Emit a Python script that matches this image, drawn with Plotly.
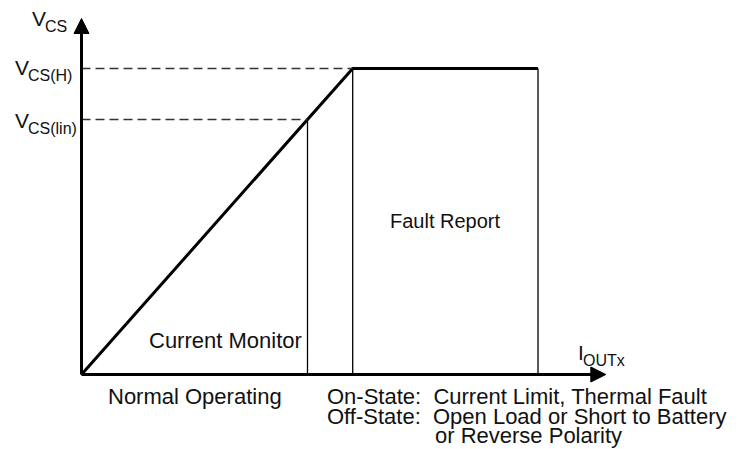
import plotly.graph_objects as go

# ---- data (conceptual units) ----
I_LIN = 5.0          # end of linear current-monitor region
I_H = 6.0            # current where V_CS saturates at V_CS(H)
I_FAULT_END = 10.1   # end of fault-report region
I_AXIS_END = 11.6    # x-axis arrow tip
V_LIN = 2.5          # V_CS(lin)
V_H = 3.0            # V_CS(H)
V_AXIS_END = 3.49    # y-axis arrow tip

curve_x = [0, I_H, I_FAULT_END]
curve_y = [0, V_H, V_H]

# ---- scale (layout) ----
W, H = 742, 449
OX, OY = 81.5, 374.5
SX, SY = 45.2, 102.0
xr = [-OX / SX, (W - OX) / SX]
yr = [-(H - OY) / SY, OY / SY]

def px(dx):
    return dx / SX

def py(dy):
    return dy / SY

FONT = "Liberation Sans, Arial, sans-serif"
BLACK = "#000000"

fig = go.Figure()

fig.add_trace(go.Scatter(x=curve_x, y=curve_y, mode="lines",
                         line=dict(color=BLACK, width=3), hoverinfo="skip"))
for xv, ytop in [(I_LIN, V_LIN), (I_H, V_H), (I_FAULT_END, V_H)]:
    fig.add_trace(go.Scatter(x=[xv, xv], y=[ytop, 0], mode="lines",
                             line=dict(color=BLACK, width=1.3), hoverinfo="skip"))
for xv, yv in [(I_H, V_H), (I_LIN, V_LIN)]:
    fig.add_trace(go.Scatter(x=[0, xv], y=[yv, yv], mode="lines",
                             line=dict(color="#333333", width=1.6, dash="9px,5px"),
                             hoverinfo="skip"))
fig.add_trace(go.Scatter(x=[0, I_AXIS_END - px(12)], y=[0, 0], mode="lines",
                         line=dict(color=BLACK, width=3), hoverinfo="skip"))
fig.add_trace(go.Scatter(x=[0, 0], y=[0, V_AXIS_END - py(12)], mode="lines",
                         line=dict(color=BLACK, width=3), hoverinfo="skip"))
hl, hw = 15, 7.5
fig.add_trace(go.Scatter(
    x=[I_AXIS_END, I_AXIS_END - px(hl), I_AXIS_END - px(hl), I_AXIS_END],
    y=[0, py(hw), -py(hw), 0], mode="lines", fill="toself", fillcolor=BLACK,
    line=dict(color=BLACK, width=1), hoverinfo="skip"))
fig.add_trace(go.Scatter(
    x=[0, px(hw), -px(hw), 0],
    y=[V_AXIS_END, V_AXIS_END - py(hl), V_AXIS_END - py(hl), V_AXIS_END],
    mode="lines", fill="toself", fillcolor=BLACK,
    line=dict(color=BLACK, width=1), hoverinfo="skip"))

def label(text, x, y, xanchor="center", yanchor="middle", size=20):
    fig.add_annotation(text=text, x=x, y=y, xref="x", yref="y",
                       xanchor=xanchor, yanchor=yanchor, showarrow=False,
                       font=dict(family=FONT, size=size, color="#111111"))

def sublabel(main, s, x, y):
    # main letter right-anchored at x, subscript left-anchored just after it, lowered
    label(main, x, y, xanchor="right", size=21)
    label(s, x - px(5), y - py(8), xanchor="left", size=16)

sublabel("V", "CS", -px(34), V_AXIS_END + py(0))
sublabel("V", "CS(H)", -px(51), V_H + py(1))
sublabel("V", "CS(lin)", -px(51), V_LIN - py(1))
sublabel("I", "OUTx", I_AXIS_END - px(20), py(22))
label("Fault Report", (I_H + I_FAULT_END) / 2, V_H - py(152))
label("Current Monitor", I_LIN - px(4), py(34), xanchor="right", size=22)
label("Normal Operating", I_LIN / 2 + px(0), -py(22), size=22)
label("On-State:  Current Limit, Thermal Fault", I_H - px(28), -py(22), xanchor="left", size=22)
label("Off-State:  Open Load or Short to Battery", I_H - px(28), -py(42), xanchor="left", size=22)
label("or Reverse Polarity", I_H + px(80), -py(61), xanchor="left", size=22)

fig.update_layout(
    width=W, height=H, margin=dict(l=0, r=0, t=0, b=0),
    paper_bgcolor="white", plot_bgcolor="white", showlegend=False,
    xaxis=dict(range=xr, visible=False, fixedrange=True),
    yaxis=dict(range=yr, visible=False, fixedrange=True),
)
fig.write_html("out.html", config={"displayModeBar": False},
               post_script="document.body.style.margin='0';document.body.style.padding='0';")
